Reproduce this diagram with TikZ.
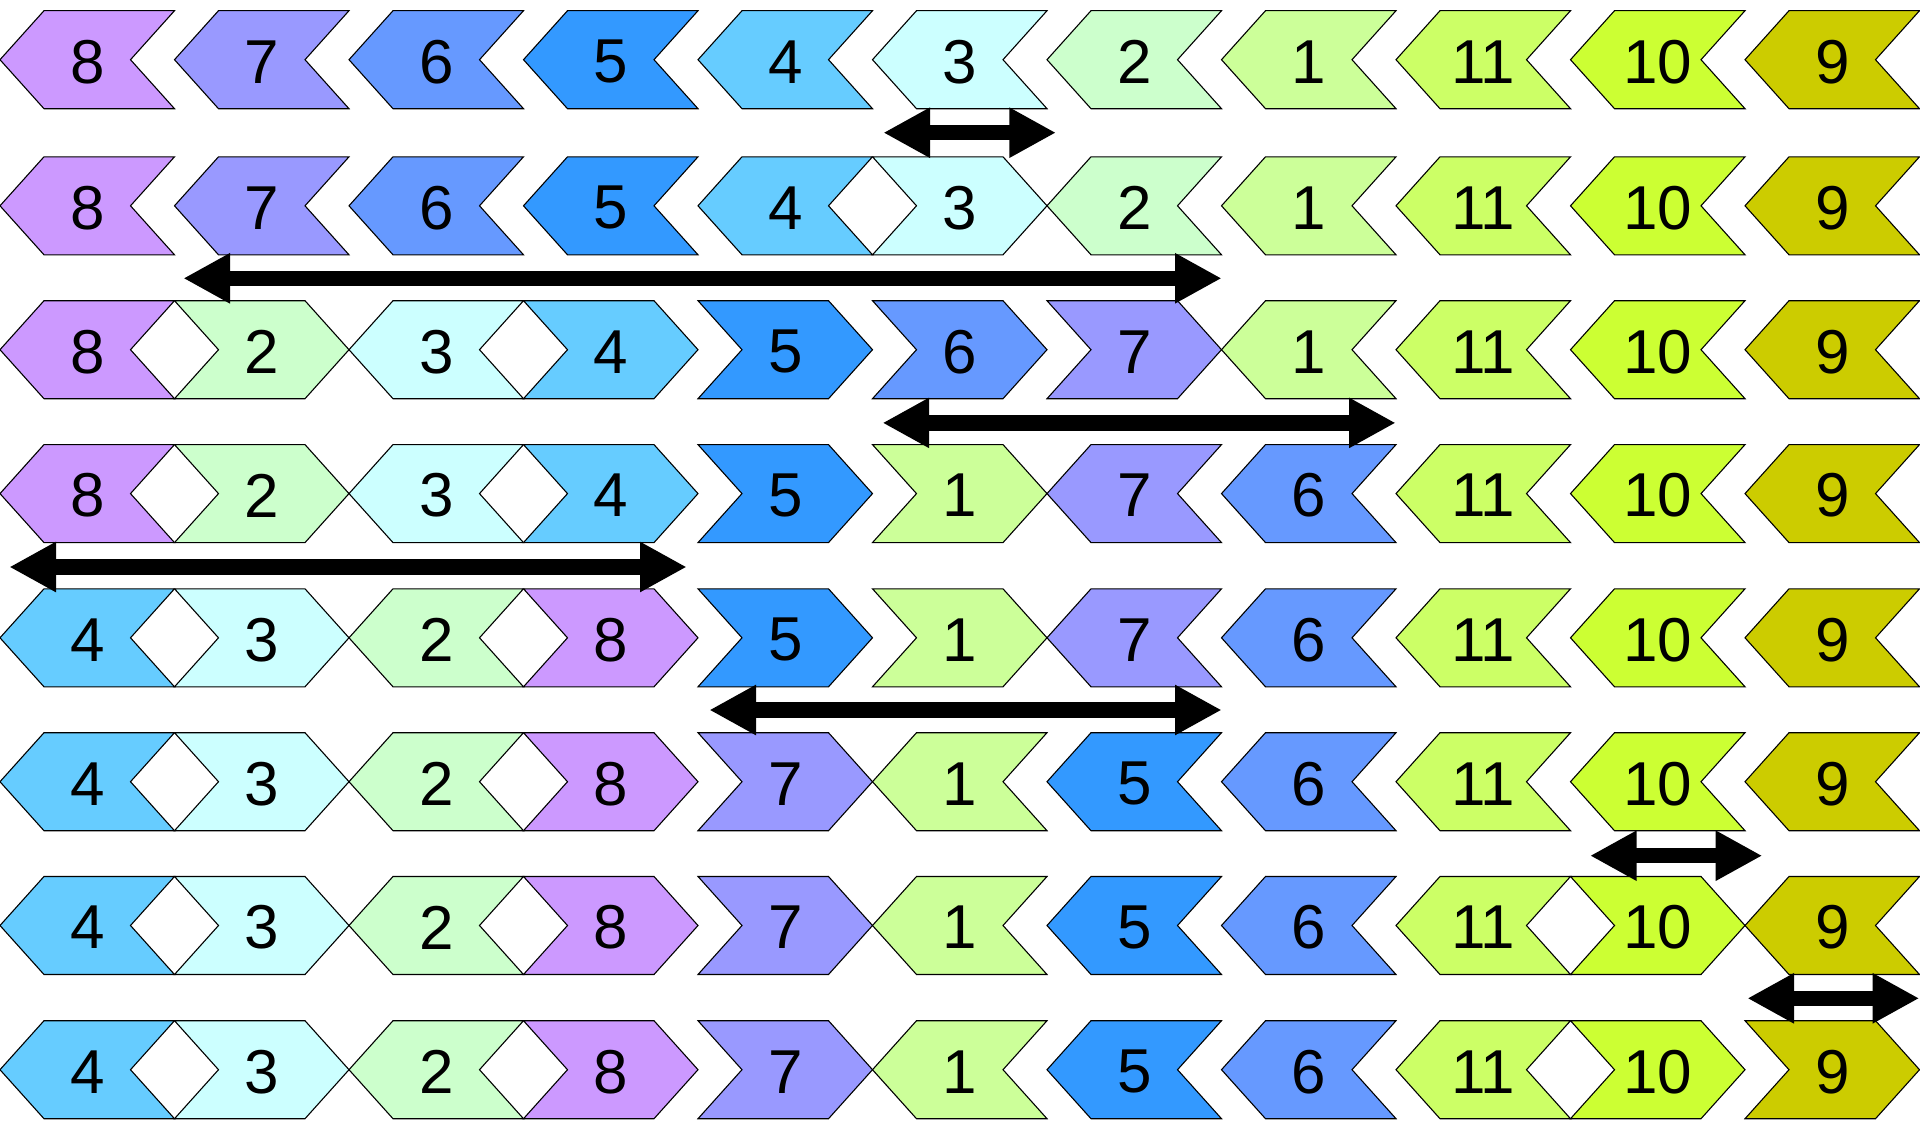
\documentclass[tikz,border=0pt]{standalone}
\usepackage{fontspec}
\setmainfont{Liberation Sans}
\usetikzlibrary{arrows.meta}
\definecolor{c8}{HTML}{CC99FF}
\definecolor{c7}{HTML}{9999FF}
\definecolor{c6}{HTML}{6699FF}
\definecolor{c5}{HTML}{3399FF}
\definecolor{c4}{HTML}{66CCFF}
\definecolor{c3}{HTML}{CCFFFF}
\definecolor{c2}{HTML}{CCFFCC}
\definecolor{c1}{HTML}{CCFF99}
\definecolor{c11}{HTML}{CCFF66}
\definecolor{c10}{HTML}{CCFF33}
\definecolor{c9}{HTML}{CCCC00}
\tikzset{
  shp/.style={draw=black, line width=1.1pt, line join=miter},
  lab/.style={font=\fontsize{62}{62}\selectfont, inner sep=0pt, text=black},
  rev/.style={line width=15.5pt,
    {Triangle[length=46.7pt,width=47pt]}-{Triangle[length=46.7pt,width=47pt]}}
}
% left-pointing chevron: name, cell index, y centre, label
\newcommand\chevL[4]{%
  \pgfmathsetmacro\xa{174.5*#2}%
  \pgfmathsetmacro\xb{\xa+174.5}%
  \filldraw[shp, fill=c#4] (\xa,#3) -- ({\xa+44},{#3-49}) -- (\xb,{#3-49}) -- ({\xb-44},#3) -- (\xb,{#3+49}) -- ({\xa+44},{#3+49}) -- cycle;
  \node[lab] (#1) at ({\xa+87.25},{#3+2}) {#4};
}
% right-pointing chevron
\newcommand\chevR[4]{%
  \pgfmathsetmacro\xa{174.5*#2}%
  \pgfmathsetmacro\xb{\xa+174.5}%
  \filldraw[shp, fill=c#4] (\xa,{#3-49}) -- ({\xb-44},{#3-49}) -- (\xb,#3) -- ({\xb-44},{#3+49}) -- (\xa,{#3+49}) -- ({\xa+44},#3) -- cycle;
  \node[lab] (#1) at ({\xa+87.25},{#3+2}) {#4};
}
\begin{document}
\begin{tikzpicture}[x=1pt,y=-1pt]
\useasboundingbox (0,0) rectangle (1920,1124);
\foreach[count=\i from 0] \lab/\d in {8/L,7/L,6/L,5/L,4/L,3/L,2/L,1/L,11/L,10/L,9/L}
  {\csname chev\d\endcsname{r1c\i}{\i}{59.7}{\lab}}
\foreach[count=\i from 0] \lab/\d in {8/L,7/L,6/L,5/L,4/L,3/R,2/L,1/L,11/L,10/L,9/L}
  {\csname chev\d\endcsname{r2c\i}{\i}{205.8}{\lab}}
\foreach[count=\i from 0] \lab/\d in {8/L,2/R,3/L,4/R,5/R,6/R,7/R,1/L,11/L,10/L,9/L}
  {\csname chev\d\endcsname{r3c\i}{\i}{349.7}{\lab}}
\foreach[count=\i from 0] \lab/\d in {8/L,2/R,3/L,4/R,5/R,1/R,7/L,6/L,11/L,10/L,9/L}
  {\csname chev\d\endcsname{r4c\i}{\i}{493.6}{\lab}}
\foreach[count=\i from 0] \lab/\d in {4/L,3/R,2/L,8/R,5/R,1/R,7/L,6/L,11/L,10/L,9/L}
  {\csname chev\d\endcsname{r5c\i}{\i}{637.8}{\lab}}
\foreach[count=\i from 0] \lab/\d in {4/L,3/R,2/L,8/R,7/R,1/L,5/L,6/L,11/L,10/L,9/L}
  {\csname chev\d\endcsname{r6c\i}{\i}{781.7}{\lab}}
\foreach[count=\i from 0] \lab/\d in {4/L,3/R,2/L,8/R,7/R,1/L,5/L,6/L,11/L,10/R,9/L}
  {\csname chev\d\endcsname{r7c\i}{\i}{925.5}{\lab}}
\foreach[count=\i from 0] \lab/\d in {4/L,3/R,2/L,8/R,7/R,1/L,5/L,6/L,11/L,10/R,9/R}
  {\csname chev\d\endcsname{r8c\i}{\i}{1069.7}{\lab}}
% reversal arrows
\coordinate (a1l) at (883.3,132.7);  \coordinate (a1r) at (1056,132.7);
\coordinate (a2l) at (183.3,278.3);  \coordinate (a2r) at (1221.7,278.3);
\coordinate (a3l) at (882.5,422.9);  \coordinate (a3r) at (1395.7,422.9);
\coordinate (a4l) at (9.3,567);      \coordinate (a4r) at (686.7,567);
\coordinate (a5l) at (709.3,710);    \coordinate (a5r) at (1221.7,710);
\coordinate (a6l) at (1590,855.7);   \coordinate (a6r) at (1762.3,855.7);
\coordinate (a7l) at (1747.3,998.3); \coordinate (a7r) at (1919.3,998.3);
\foreach \k in {1,...,7} {\draw[rev] (a\k l) -- (a\k r);}
\end{tikzpicture}
\end{document}
